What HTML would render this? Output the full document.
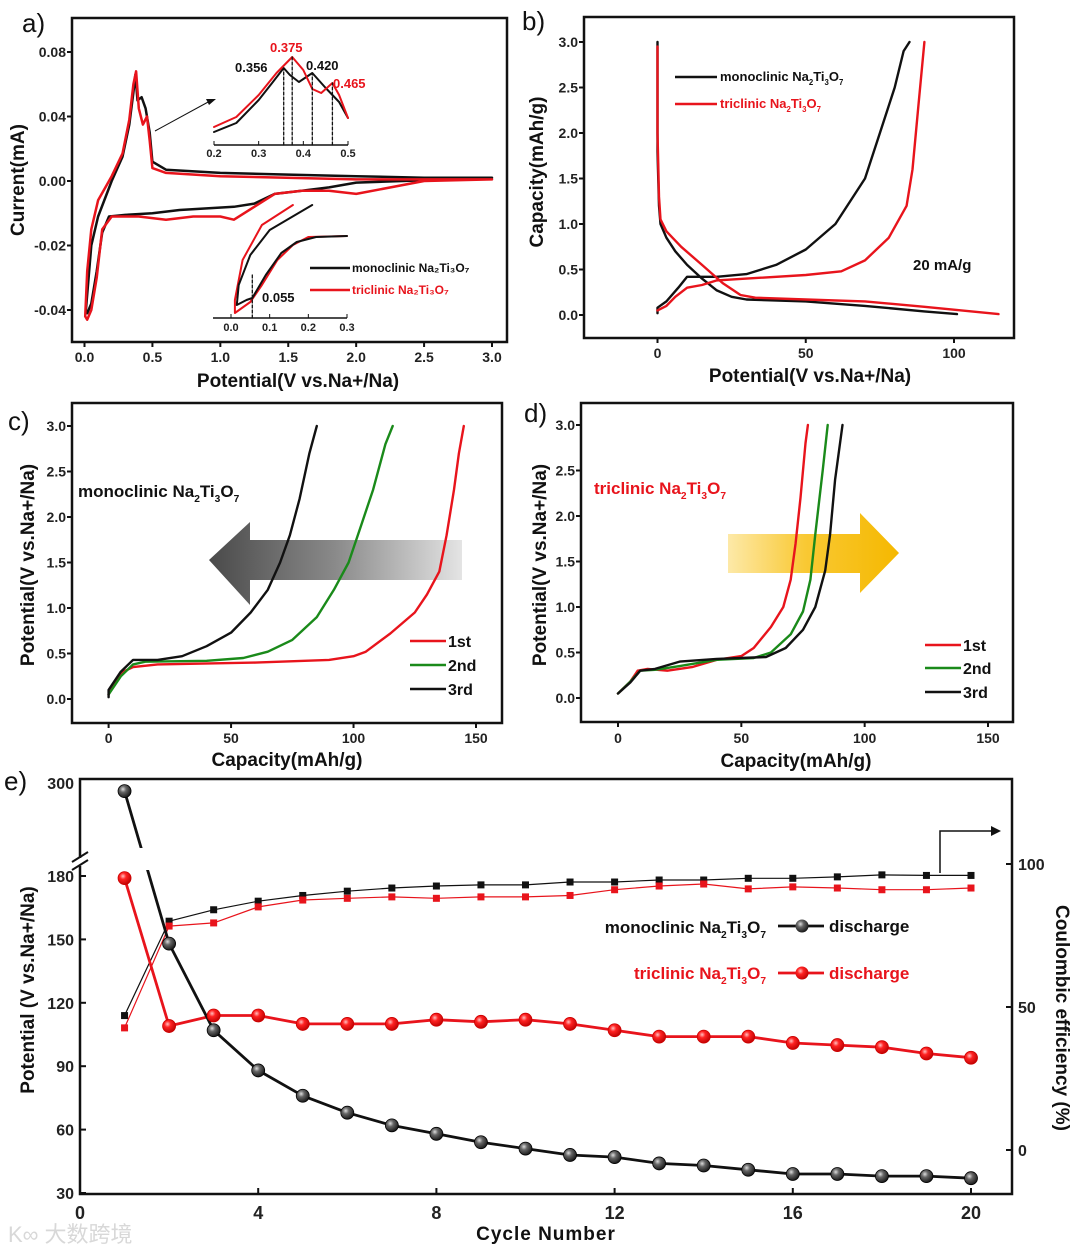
<!DOCTYPE html>
<html><head><meta charset="utf-8">
<style>
html,body{margin:0;padding:0;background:#fff;}
svg{display:block;font-family:"Liberation Sans",Arial,sans-serif;}
.tk{font-size:14px;font-weight:bold;fill:#222;}
.tl{font-size:19px;font-weight:bold;fill:#111;}
.pl{font-size:26px;fill:#111;}
.en{font-family:"Liberation Sans Narrow","Liberation Sans",sans-serif;}
</style></head>
<body>
<svg id="fig" width="1080" height="1252" viewBox="0 0 1080 1252" xmlns="http://www.w3.org/2000/svg">
<defs>
<radialGradient id="gBlk" cx="0.38" cy="0.35" r="0.7"><stop offset="0" stop-color="#ddd"/><stop offset="0.35" stop-color="#666"/><stop offset="1" stop-color="#111"/></radialGradient>
<radialGradient id="gRed" cx="0.38" cy="0.35" r="0.7"><stop offset="0" stop-color="#ffc0c0"/><stop offset="0.35" stop-color="#f22"/><stop offset="1" stop-color="#b00"/></radialGradient>
<linearGradient id="gGray" x1="0" x2="1" y1="0" y2="0"><stop offset="0" stop-color="#4a4a4a"/><stop offset="0.5" stop-color="#8a8a8a"/><stop offset="1" stop-color="#e4e4e4"/></linearGradient>
<linearGradient id="gGold" x1="0" x2="1" y1="0" y2="0"><stop offset="0" stop-color="#fde9a8"/><stop offset="0.45" stop-color="#f9c934"/><stop offset="1" stop-color="#f5b800"/></linearGradient>
</defs>
</svg>
<script>
// ---------- Panel a data (CV) ----------
const aXTicks=[0,0.5,1,1.5,2,2.5,3];
const aXTickLabels=["0.0","0.5","1.0","1.5","2.0","2.5","3.0"];
const aYTickVals=[0.08,0.04,0,-0.02,-0.04];
const aYTickLabels=["0.08","0.04","0.00","-0.02","-0.04"];
const aMonoV=[3.0,2.5,2.0,1.8,1.6,1.4,1.25,1.1,0.9,0.7,0.5,0.3,0.18,0.13,0.09,0.05,0.02,0.01,0.03,0.05,0.1,0.2,0.28,0.33,0.36,0.375,0.39,0.42,0.45,0.48,0.5,0.6,1.0,1.5,2.0,2.5,3.0];
const aMonoI=[0.002,0.0005,-0.0005,-0.002,-0.003,-0.004,-0.007,-0.008,-0.0085,-0.009,-0.010,-0.0105,-0.011,-0.016,-0.028,-0.038,-0.041,-0.040,-0.030,-0.020,-0.011,0.0,0.015,0.035,0.055,0.066,0.05,0.052,0.045,0.03,0.012,0.007,0.005,0.004,0.003,0.002,0.002];
const aTriV=[3.0,2.5,2.0,1.8,1.6,1.4,1.25,1.1,1.0,0.8,0.6,0.4,0.2,0.13,0.09,0.05,0.02,0.005,0.02,0.05,0.1,0.2,0.28,0.33,0.36,0.38,0.40,0.43,0.46,0.48,0.5,0.6,1.0,2.0,3.0];
const aTriI=[0.001,0.0,-0.004,-0.003,-0.003,-0.004,-0.008,-0.012,-0.011,-0.011,-0.012,-0.011,-0.011,-0.015,-0.03,-0.04,-0.043,-0.042,-0.028,-0.015,-0.006,0.003,0.017,0.038,0.06,0.068,0.045,0.035,0.04,0.025,0.008,0.005,0.003,0.001,0.001];
const aInTopMonoV=[0.2,0.25,0.3,0.33,0.356,0.37,0.39,0.42,0.45,0.48,0.5];
const aInTopMonoI=[13,22,45,62,77,70,63,72,57,43,27];
const aInTopTriV=[0.2,0.25,0.3,0.34,0.375,0.4,0.42,0.44,0.465,0.48,0.5];
const aInTopTriI=[18,28,50,72,88,75,56,52,62,50,27];
const aInTopPeaks=[0.356,0.375,0.420,0.465];
const aInBotMonoV=[0.21,0.1,0.05,0.02,0.015,0.04,0.055,0.09,0.13,0.17,0.22,0.3];
const aInBotMonoI=[113,88,63,33,13,18,20,43,65,76,81,82];
const aInBotTriV=[0.16,0.08,0.03,0.01,0.01,0.05,0.08,0.12,0.16,0.2,0.3];
const aInBotTriI=[113,93,58,18,5,16,33,58,73,81,82];

// ---------- Panel b data ----------
const bXTicks=[0,50,100];
const bYTicks=[0,0.5,1,1.5,2,2.5,3];
const bMonoDisX=[0,0,0.5,1,3,6,10,15,20,25,30,50,70,90,101];
const bMonoDisY=[3.0,1.8,1.2,1.0,0.85,0.7,0.55,0.4,0.27,0.2,0.17,0.15,0.1,0.04,0.01];
const bMonoChX=[0,0,3,7,10,20,30,40,50,60,70,75,80,83,85];
const bMonoChY=[0.02,0.08,0.15,0.3,0.42,0.42,0.45,0.55,0.72,1.0,1.5,2.0,2.5,2.9,3.0];
const bTriDisX=[0,0,0.5,1,3,8,15,22,28,33,50,70,90,115];
const bTriDisY=[2.95,2.0,1.3,1.05,0.92,0.75,0.55,0.35,0.22,0.19,0.17,0.15,0.09,0.01];
const bTriChX=[0,3,6,10,15,20,30,50,62,70,78,84,86,88,90];
const bTriChY=[0.05,0.1,0.2,0.3,0.33,0.38,0.4,0.44,0.48,0.6,0.85,1.2,1.6,2.3,3.0];

// ---------- Panel c data ----------
const cXTicks=[0,50,100,150];
const cYTicks=[0,0.5,1,1.5,2,2.5,3];
const c1X=[0,3,6,10,20,60,90,100,105,115,125,130,135,138,141,143,145];
const c1Y=[0.05,0.2,0.3,0.35,0.38,0.4,0.43,0.47,0.52,0.72,0.95,1.15,1.4,1.8,2.3,2.7,3.0];
const c2X=[0,5,10,15,40,55,65,75,85,92,98,103,108,113,116];
const c2Y=[0.05,0.25,0.38,0.41,0.42,0.45,0.52,0.65,0.9,1.2,1.5,1.9,2.3,2.8,3.0];
const c3X=[0,0,5,10,20,30,40,50,58,65,70,74,78,82,85];
const c3Y=[0.02,0.1,0.3,0.43,0.43,0.47,0.58,0.73,0.95,1.2,1.5,1.8,2.2,2.7,3.0];

// ---------- Panel d data ----------
const d1X=[0,5,8,12,20,30,40,50,55,62,67,70,72,74,76,77];
const d1Y=[0.05,0.18,0.3,0.32,0.3,0.34,0.42,0.46,0.55,0.78,1.0,1.3,1.7,2.2,2.8,3.0];
const d2X=[0,5,9,15,25,40,55,62,70,75,78,80,83,85];
const d2Y=[0.05,0.18,0.3,0.31,0.35,0.42,0.44,0.5,0.7,0.95,1.3,1.8,2.5,3.0];
const d3X=[0,5,9,15,25,40,60,68,75,80,84,86,88,91];
const d3Y=[0.05,0.17,0.3,0.32,0.4,0.43,0.45,0.55,0.75,1.0,1.4,1.8,2.4,3.0];

// ---------- Panel e data ----------
const eCycles=[1,2,3,4,5,6,7,8,9,10,11,12,13,14,15,16,17,18,19,20];
const eXTicks=[0,4,8,12,16,20];
const eLeftTicks=[30,60,90,120,150,180];
const eRightTicks=[0,50,100];
const eMonoDis=[285,148,107,88,76,68,62,58,54,51,48,47,44,43,41,39,39,38,38,37];
const eTriDis=[179,109,114,114,110,110,110,112,111,112,110,107,104,104,104,101,100,99,96,94];
const eMonoCE=[47,80,84,87,89,90.5,91.6,92.3,92.7,92.7,93.7,93.7,94.4,94.4,95,95,95.5,96.2,96,96];
const eTriCE=[42.7,78.3,79.4,85,87.4,88,88.5,88,88.5,88.5,89,91,92.3,93,91.3,92,91.6,91,91,91.6];

const NS="http://www.w3.org/2000/svg";
const svg=document.getElementById('fig');
function el(tag,attrs,parent,text){const e=document.createElementNS(NS,tag);for(const k in attrs)e.setAttribute(k,attrs[k]);if(text!==undefined)e.textContent=text;(parent||svg).appendChild(e);return e;}
function lin(d0,d1,r0,r1){return v=>r0+(v-d0)*(r1-r0)/(d1-d0);}
function poly(xs,ys,sx,sy,color,w,name,parent,dash){
  const pts=xs.map((x,i)=>sx(x).toFixed(1)+','+sy(ys[i]).toFixed(1)).join(' ');
  const p=el('polyline',{points:pts,fill:'none',stroke:color,'stroke-width':w,'stroke-linejoin':'round','stroke-linecap':'round'},parent);
  if(dash)p.setAttribute('stroke-dasharray',dash);
  
  
  return p;
}
function frame(x0,y0,x1,y1,name){
  const r=el('rect',{x:x0,y:y0,width:x1-x0,height:y1-y0,fill:'none',stroke:'#111','stroke-width':2.5});
  
  
}
function xAxisTicks(vals,labels,sx,y,ly,name,cls,len){
  vals.forEach((v,i)=>{
    el('line',{x1:sx(v),x2:sx(v),y1:y,y2:y+(len||5),stroke:'#111','stroke-width':2});
    const t=el('text',{x:sx(v),y:ly,'text-anchor':'middle',class:cls||'tk'},svg,labels[i]);
    
    
  });
}
function yAxisTicks(vals,labels,sy,x,lx,name,cls,len){
  vals.forEach((v,i)=>{
    el('line',{x1:x,x2:x-(len||5),y1:sy(v),y2:sy(v),stroke:'#111','stroke-width':2});
    const t=el('text',{x:lx,y:sy(v)+5,'text-anchor':'end',class:cls||'tk'},svg,labels[i]);
    
    
  });
}
function title(txt,x,y,rot,name,extra){
  const t=el('text',Object.assign({x:x,y:y,'text-anchor':'middle',class:'tl'},rot?{transform:`rotate(${rot} ${x} ${y})`}:{},extra||{}),svg,txt);
  
  
  return t;
}
function chem(parent,x,y,prefix,color,size,name,anchor){
  const t=el('text',{x:x,y:y,fill:color,'font-size':size,'font-weight':'bold','text-anchor':anchor||'start'},parent);
  
  
  const parts=[[prefix+'Na',0],['2',1],['Ti',0],['3',1],['O',0],['7',1]];
  parts.forEach(p=>{const s=el('tspan',{},t,p[0]);if(p[1]){s.setAttribute('font-size',size*0.6);s.setAttribute('dy',size*0.3);}else{s.setAttribute('dy',0);}});
  const spans=t.querySelectorAll('tspan');
  spans.forEach((s,i)=>{if(i>0&&!([1,3,5].includes(i))){s.setAttribute('dy',-size*0.3);}});
  return t;
}
function label(txt,x,y,name){const t=el('text',{x:x,y:y,class:'pl'},svg,txt);}

// ================= Panel a =================
(function(){
  const sx=lin(0,3,84.5,492);
  const yPos=[52,116.5,181,245.5,310];
  const sy=v=>{
    for(let i=0;i<aYTickVals.length-1;i++){const a=aYTickVals[i],b=aYTickVals[i+1];if(v<=a&&v>=b)return lin(a,b,yPos[i],yPos[i+1])(v);}
    if(v>aYTickVals[0])return lin(aYTickVals[0],aYTickVals[1],yPos[0],yPos[1])(v);
    return lin(aYTickVals[3],aYTickVals[4],yPos[3],yPos[4])(v);
  };
  frame(72,18,507,342,'panel-a-frame');
  xAxisTicks(aXTicks,aXTickLabels,sx,342,362,'a-x-tick-label');
  yAxisTicks(aYTickVals,aYTickLabels,sy,72,66,'a-y-tick-label');
  poly(aMonoV,aMonoI,sx,sy,'#111',2.5,'a-monoclinic-cv-curve');
  poly(aTriV,aTriI,sx,sy,'#e8141c',2.5,'a-triclinic-cv-curve');
  el('line',{x1:155,y1:131,x2:210,y2:101,stroke:'#111','stroke-width':1});
  el('polygon',{points:'216,99 206,99 209,105',fill:'#111'});
  const ix=lin(0.2,0.5,214,348), iy=v=>145-v;
  el('line',{x1:214,x2:348,y1:145,y2:145,stroke:'#111','stroke-width':1.5});
  [0.2,0.3,0.4,0.5].forEach((v,i)=>{el('line',{x1:ix(v),x2:ix(v),y1:145,y2:141,stroke:'#111'});const t=el('text',{x:ix(v),y:157,'text-anchor':'middle','font-size':11,'font-weight':'bold',fill:'#222'},svg,v.toFixed(1));});
  poly(aInTopMonoV,aInTopMonoI,ix,iy,'#111',2,'a-inset-top-monoclinic');
  poly(aInTopTriV,aInTopTriI,ix,iy,'#e8141c',2,'a-inset-top-triclinic');
  const peakYs=[77,88,72,62];
  aInTopPeaks.forEach((p,i)=>{poly([p,p],[0,peakYs[i]],ix,iy,'#111',1.3,'a-inset-peak-marker',svg,'3,2');});
  const pk=[['0.356',235,72,'#111'],['0.375',270,52,'#e8141c'],['0.420',306,70,'#111'],['0.465',333,88,'#e8141c']];
  pk.forEach(p=>{const t=el('text',{x:p[1],y:p[2],'font-size':13,'font-weight':'bold',fill:p[3]},svg,p[0]);});
  const bx=lin(0,0.3,231,347), by=v=>318-v;
  el('line',{x1:213,x2:347,y1:318,y2:318,stroke:'#111','stroke-width':1.5});
  [0,0.1,0.2,0.3].forEach(v=>{el('line',{x1:bx(v),x2:bx(v),y1:318,y2:314,stroke:'#111'});const t=el('text',{x:bx(v),y:331,'text-anchor':'middle','font-size':11,'font-weight':'bold',fill:'#222'},svg,v.toFixed(1));});
  poly(aInBotTriV,aInBotTriI,bx,by,'#e8141c',2,'a-inset-bottom-triclinic');
  poly(aInBotMonoV,aInBotMonoI,bx,by,'#111',2,'a-inset-bottom-monoclinic');
  poly([0.055,0.055],[0,43],bx,by,'#111',1.3,'a-inset-bottom-marker',svg,'3,2');
  const t55=el('text',{x:262,y:302,'font-size':13,'font-weight':'bold',fill:'#111'},svg,'0.055');
  el('line',{x1:310,x2:350,y1:268,y2:268,stroke:'#111','stroke-width':2.5});
  const l1=el('text',{x:352,y:272,'font-size':12,'font-weight':'bold',fill:'#111'},svg,'monoclinic Na₂Ti₃O₇');
  el('line',{x1:310,x2:350,y1:290,y2:290,stroke:'#e8141c','stroke-width':2.5});
  const l2=el('text',{x:352,y:294,'font-size':12,'font-weight':'bold',fill:'#e8141c'},svg,'triclinic Na₂Ti₃O₇');
  title('Current(mA)',24,180,-90,'a-y-axis-title');
  title('Potential(V vs.Na+/Na)',298,387,0,'a-x-axis-title');
  label('a)',22,32,'panel-a-label');
})();

// ================= Panel b =================
(function(){
  const sx=lin(0,100,657.5,954), sy=lin(0,3,315,42);
  frame(584,17,1014,338,'panel-b-frame');
  xAxisTicks(bXTicks,bXTicks.map(String),sx,338,358,'b-x-tick-label');
  yAxisTicks(bYTicks,bYTicks.map(v=>v.toFixed(1)),sy,584,578,'b-y-tick-label');
  poly(bMonoDisX,bMonoDisY,sx,sy,'#111',2.4,'b-monoclinic-discharge');
  poly(bMonoChX,bMonoChY,sx,sy,'#111',2.4,'b-monoclinic-charge');
  poly(bTriDisX,bTriDisY,sx,sy,'#e8141c',2.4,'b-triclinic-discharge');
  poly(bTriChX,bTriChY,sx,sy,'#e8141c',2.4,'b-triclinic-charge');
  el('line',{x1:675,x2:717,y1:77,y2:77,stroke:'#111','stroke-width':2.5});
  chem(svg,720,81,'monoclinic ','#111',13,'b-legend-monoclinic');
  el('line',{x1:675,x2:717,y1:104,y2:104,stroke:'#e8141c','stroke-width':2.5});
  chem(svg,720,108,'triclinic ','#e8141c',13,'b-legend-triclinic');
  const r=el('text',{x:913,y:270,'font-size':15,'font-weight':'bold',fill:'#111'},svg,'20 mA/g');
  title('Capacity(mAh/g)',543,172,-90,'b-y-axis-title');
  title('Potential(V vs.Na+/Na)',810,382,0,'b-x-axis-title');
  label('b)',522,30,'panel-b-label');
})();

// ================= Panel c =================
(function(){
  const sx=lin(0,150,108.6,476), sy=lin(0,3,699,426);
  frame(72,403,502,723,'panel-c-frame');
  const a=el('polygon',{points:'462,540 250,540 250,522 209,560 250,605 250,580 462,580',fill:'url(#gGray)'});
  
  xAxisTicks(cXTicks,cXTicks.map(String),sx,723,743,'c-x-tick-label');
  yAxisTicks(cYTicks,cYTicks.map(v=>v.toFixed(1)),sy,72,66,'c-y-tick-label');
  poly(c1X,c1Y,sx,sy,'#e8141c',2.4,'c-cycle-1st');
  poly(c2X,c2Y,sx,sy,'#1a8a1a',2.4,'c-cycle-2nd');
  poly(c3X,c3Y,sx,sy,'#111',2.4,'c-cycle-3rd');
  chem(svg,78,497,'monoclinic ','#111',17,'c-material-label');
  [['1st','#e8141c',641],['2nd','#1a8a1a',665],['3rd','#111',689]].forEach(l=>{
    el('line',{x1:410,x2:446,y1:l[2],y2:l[2],stroke:l[1],'stroke-width':2.5});
    const t=el('text',{x:448,y:l[2]+6,'font-size':16,'font-weight':'bold',fill:'#111'},svg,l[0]);
  });
  title('Potential(V vs.Na+/Na)',34,565,-90,'c-y-axis-title',{'font-size':17});
  title('Capacity(mAh/g)',287,766,0,'c-x-axis-title',{'font-size':17});
  label('c)',8,430,'panel-c-label');
})();

// ================= Panel d =================
(function(){
  const sx=lin(0,150,618,988), sy=lin(0,3,698,425);
  frame(581,403,1013,722,'panel-d-frame');
  const a=el('polygon',{points:'728,534 860,534 860,513 899,553 860,593 860,573 728,573',fill:'url(#gGold)'});
  
  xAxisTicks(cXTicks,cXTicks.map(String),sx,722,743,'d-x-tick-label');
  yAxisTicks(cYTicks,cYTicks.map(v=>v.toFixed(1)),sy,581,575,'d-y-tick-label');
  poly(d1X,d1Y,sx,sy,'#e8141c',2.4,'d-cycle-1st');
  poly(d2X,d2Y,sx,sy,'#1a8a1a',2.4,'d-cycle-2nd');
  poly(d3X,d3Y,sx,sy,'#111',2.4,'d-cycle-3rd');
  chem(svg,594,494,'triclinic ','#e8141c',17,'d-material-label');
  [['1st','#e8141c',645],['2nd','#1a8a1a',668],['3rd','#111',692]].forEach(l=>{
    el('line',{x1:925,x2:961,y1:l[2],y2:l[2],stroke:l[1],'stroke-width':2.5});
    const t=el('text',{x:963,y:l[2]+6,'font-size':16,'font-weight':'bold',fill:'#111'},svg,l[0]);
  });
  title('Potential(V vs.Na+/Na)',546,565,-90,'d-y-axis-title',{'font-size':17});
  title('Capacity(mAh/g)',796,767,0,'d-x-axis-title',{'font-size':17});
  label('d)',524,422,'panel-d-label');
})();

// ================= Panel e =================
(function(){
  const sx=lin(0,20,80,971);
  const lowY=lin(30,180,1193,876);
  const sy=v=>v<=190?lowY(v):860-(v-200)*0.81;
  const ry=lin(0,100,1150,864);
  frame(80,779,1012,1194,'panel-e-frame');
  el('rect',{x:74,y:858,width:12,height:8,fill:'#fff'});
  el('line',{x1:72,y1:862,x2:88,y2:852,stroke:'#111','stroke-width':2});
  el('line',{x1:72,y1:870,x2:88,y2:860,stroke:'#111','stroke-width':2});
  eXTicks.forEach(v=>{el('line',{x1:sx(v),x2:sx(v),y1:1194,y2:1188,stroke:'#111','stroke-width':2});const t=el('text',{x:sx(v),y:1219,'text-anchor':'middle',class:'en','font-size':18,'font-weight':'bold',fill:'#222'},svg,String(v));});
  eLeftTicks.forEach(v=>{el('line',{x1:80,x2:86,y1:sy(v),y2:sy(v),stroke:'#111','stroke-width':2});const t=el('text',{x:74,y:sy(v)+6,'text-anchor':'end',class:'en','font-size':16,'font-weight':'bold',fill:'#222'},svg,String(v));});
  const t300=el('text',{x:74,y:789,'text-anchor':'end',class:'en','font-size':16,'font-weight':'bold',fill:'#222'},svg,'300');
  eRightTicks.forEach(v=>{el('line',{x1:1012,x2:1006,y1:ry(v),y2:ry(v),stroke:'#111','stroke-width':2});const t=el('text',{x:1018,y:ry(v)+6,class:'en','font-size':16,'font-weight':'bold',fill:'#222'},svg,String(v));});
  poly(eCycles,eMonoCE,sx,ry,'#111',1.2,'e-monoclinic-ce-line');
  poly(eCycles,eTriCE,sx,ry,'#e8141c',1.2,'e-triclinic-ce-line');
  eCycles.forEach((c,i)=>{
    const m=el('rect',{x:sx(c)-3.5,y:ry(eMonoCE[i])-3.5,width:7,height:7,fill:'#111'});
    
    const r=el('rect',{x:sx(c)-3.5,y:ry(eTriCE[i])-3.5,width:7,height:7,fill:'#e8141c'});
    
  });
  poly(eCycles,eTriDis,sx,sy,'#e8141c',2.8,'e-triclinic-discharge-line');
  poly(eCycles,eMonoDis,sx,sy,'#111',2.8,'e-monoclinic-discharge-line');
  el('rect',{x:sx(1.3),y:848,width:14,height:22,fill:'#fff'});
  eCycles.forEach((c,i)=>{
    const r=el('circle',{cx:sx(c),cy:sy(eTriDis[i]),r:6.5,fill:'url(#gRed)',stroke:'#c00','stroke-width':0.8});
    
    const m=el('circle',{cx:sx(c),cy:sy(eMonoDis[i]),r:6.5,fill:'url(#gBlk)',stroke:'#000','stroke-width':0.8});
    
  });
  el('polyline',{points:'940,873 940,831 992,831',fill:'none',stroke:'#111','stroke-width':1.5});
  el('polygon',{points:'1001,831 991,826 991,836',fill:'#111'});
  chem(svg,766,933,'monoclinic ','#111',17,'e-legend-monoclinic-label','end');
  el('line',{x1:778,x2:824,y1:926,y2:926,stroke:'#111','stroke-width':2.8});
  el('circle',{cx:802,cy:926,r:6.5,fill:'url(#gBlk)'});
  const d1=el('text',{x:829,y:932,'font-size':17,'font-weight':'bold',fill:'#111'},svg,'discharge');
  chem(svg,766,979,'triclinic ','#e8141c',17,'e-legend-triclinic-label','end');
  el('line',{x1:778,x2:824,y1:973,y2:973,stroke:'#e8141c','stroke-width':2.8});
  el('circle',{cx:802,cy:973,r:6.5,fill:'url(#gRed)'});
  const d2=el('text',{x:829,y:979,'font-size':17,'font-weight':'bold',fill:'#e8141c'},svg,'discharge');
  title('Potential (V vs.Na+/Na)',34,990,-90,'e-left-axis-title',{'font-size':21});
  title('Coulombic efficiency (%)',1056,1018,90,'e-right-axis-title',{'font-size':21});
  title('Cycle Number',546,1240,0,'e-x-axis-title',{'font-size':21,'letter-spacing':'1'});
  label('e)',4,790,'panel-e-label');
  const wm=el('text',{x:8,y:1242,'font-size':22,fill:'#d8d8d8','font-family':'"Liberation Sans","Noto Sans CJK SC",sans-serif'},svg,'K∞ 大数跨境');
  
})();
</script>
</body></html>
